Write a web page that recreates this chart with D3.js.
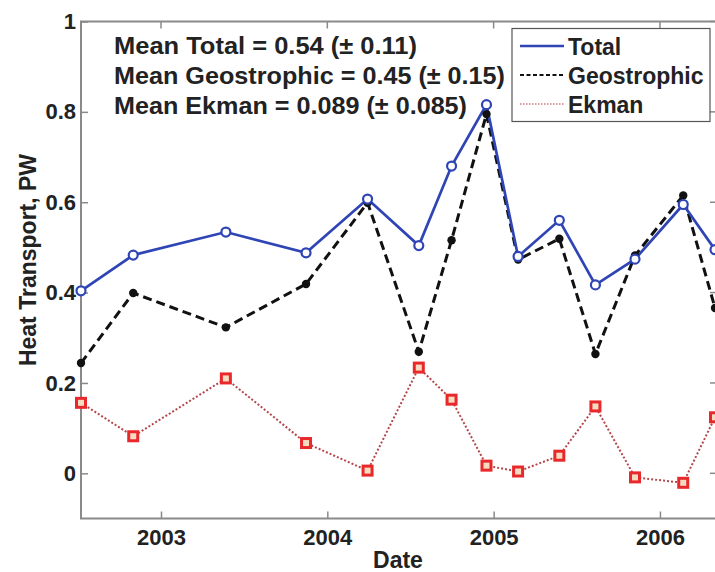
<!DOCTYPE html>
<html>
<head>
<meta charset="utf-8">
<script src="https://cdn.jsdelivr.net/npm/d3@7"></script>
<style>
  body { margin: 0; background: #fff; }
  text { font-family: "Liberation Sans", Arial, sans-serif; font-weight: bold; fill: #222; }
</style>
</head>
<body>
<svg width="715" height="572"></svg>
<script>
// Sample dates (decimal years)
const dates = [2002.519, 2002.833, 2003.39, 2003.872, 2004.242, 2004.55, 2004.747,
               2004.957, 2005.147, 2005.395, 2005.612, 2005.85, 2006.14, 2006.331];

// Heat transport, PW
const total       = [0.404, 0.483, 0.534, 0.488, 0.607, 0.504, 0.680, 0.816, 0.480, 0.560, 0.417, 0.474, 0.595, 0.495];
const geostrophic = [0.244, 0.399, 0.323, 0.419, 0.599, 0.269, 0.516, 0.795, 0.473, 0.519, 0.264, 0.482, 0.615, 0.366];
const ekman       = [0.156, 0.082, 0.210, 0.067, 0.006, 0.234, 0.163, 0.017, 0.004, 0.039, 0.148, -0.009, -0.021, 0.124];

const xTicks = [2003, 2004, 2005, 2006];
const yTicks = [0, 0.2, 0.4, 0.6, 0.8, 1];
const yTickLabels = ["0", "0.2", "0.4", "0.6", "0.8", "1"];

const notes = [
  "Mean Total = 0.54 (\u00b1 0.11)",
  "Mean Geostrophic = 0.45 (\u00b1 0.15)",
  "Mean Ekman = 0.089 (\u00b1 0.085)"
];
const noteWidths = [303, 391, 353];   // measured text widths in the picture
const legendNames = ["Total", "Geostrophic", "Ekman"];

const svg = d3.select("svg");
const box = {left: 81, right: 717, top: 21.5, bottom: 518.5};

const x = d3.scaleLinear().domain([2002.519, 2006.343]).range([box.left, box.right]);
const y = d3.scaleLinear().domain([-0.1, 1]).range([box.bottom, box.top]);

const axisColor = "#8a8a8a";

// axes box
svg.append("rect")
   .attr("x", box.left).attr("y", box.top)
   .attr("width", box.right - box.left).attr("height", box.bottom - box.top)
   .attr("fill", "none").attr("stroke", axisColor).attr("stroke-width", 2);

// x ticks (bottom + top, inward)
const xAxis = svg.append("g").attr("transform", `translate(0,${box.bottom})`)
   .call(d3.axisBottom(x).tickValues(xTicks).tickFormat(d3.format("d")).tickSizeInner(-7).tickSizeOuter(0).tickPadding(11));
xAxis.select(".domain").remove();
xAxis.selectAll("line").attr("stroke", axisColor).attr("stroke-width", 1.5);
xAxis.selectAll("text").attr("font-size", 22).attr("fill", "#222")
     .attr("font-family", "Liberation Sans, Arial, sans-serif").attr("font-weight", "bold");

svg.append("g").selectAll("line").data(xTicks).join("line")
   .attr("x1", d => x(d)).attr("x2", d => x(d))
   .attr("y1", box.top).attr("y2", box.top + 7)
   .attr("stroke", axisColor).attr("stroke-width", 1.5);

// y ticks (left + right, inward)
const yAxis = svg.append("g").attr("transform", `translate(${box.left},0)`)
   .call(d3.axisLeft(y).tickValues(yTicks).tickFormat((d, i) => yTickLabels[i]).tickSizeInner(-7).tickSizeOuter(0).tickPadding(5));
yAxis.select(".domain").remove();
yAxis.selectAll("line").attr("stroke", axisColor).attr("stroke-width", 1.5);
yAxis.selectAll("text").attr("font-size", 22).attr("fill", "#222")
     .attr("font-family", "Liberation Sans, Arial, sans-serif").attr("font-weight", "bold");

svg.append("g").selectAll("line").data(yTicks).join("line")
   .attr("x1", box.right - 7).attr("x2", box.right)
   .attr("y1", d => y(d)).attr("y2", d => y(d))
   .attr("stroke", axisColor).attr("stroke-width", 1.5);

// axis titles
svg.append("text")
   .attr("x", 398).attr("y", 568)
   .attr("text-anchor", "middle").attr("font-size", 23)
   .text("Date");

svg.append("text")
   .attr("transform", "translate(36,260) rotate(-90)")
   .attr("text-anchor", "middle").attr("font-size", 23)
   .text("Heat Transport, PW");

// series
const line = d3.line().x(d => x(d[0])).y(d => y(d[1]));
const pts = vals => dates.map((d, i) => [d, vals[i]]);

const blue = "#2f45b5", red = "#e8282b", dotLine = "#b5474c";

const plot = svg.append("g");

plot.append("path").datum(pts(ekman))
    .attr("d", line).attr("fill", "none")
    .attr("stroke", dotLine).attr("stroke-width", 2).attr("stroke-dasharray", "2,2");

plot.append("path").datum(pts(geostrophic))
    .attr("d", line).attr("fill", "none")
    .attr("stroke", "#111").attr("stroke-width", 3).attr("stroke-dasharray", "9,5");

plot.append("path").datum(pts(total))
    .attr("d", line).attr("fill", "none")
    .attr("stroke", blue).attr("stroke-width", 2.7);

// markers
plot.append("g").selectAll("rect").data(pts(ekman)).join("rect")
    .attr("x", d => x(d[0]) - 4.5).attr("y", d => y(d[1]) - 4.5)
    .attr("width", 9).attr("height", 9)
    .attr("fill", "#f5dcc0").attr("stroke", red).attr("stroke-width", 3);

plot.append("g").selectAll("circle").data(pts(geostrophic)).join("circle")
    .attr("cx", d => x(d[0])).attr("cy", d => y(d[1]))
    .attr("r", 4.2).attr("fill", "#111");

plot.append("g").selectAll("circle").data(pts(total)).join("circle")
    .attr("cx", d => x(d[0])).attr("cy", d => y(d[1]))
    .attr("r", 4.5).attr("fill", "#fff").attr("stroke", blue).attr("stroke-width", 2.2);

// mean annotations
svg.append("g").selectAll("text").data(notes).join("text")
   .attr("x", 114).attr("y", (d, i) => 54 + i * 30)
   .attr("font-size", 23)
   .attr("textLength", (d, i) => noteWidths[i])
   .attr("lengthAdjust", "spacingAndGlyphs")
   .text(d => d);

// legend
const lg = svg.append("g");
lg.append("rect")
  .attr("x", 512).attr("y", 28.5).attr("width", 198).attr("height", 93)
  .attr("fill", "#fff").attr("stroke", "#555").attr("stroke-width", 1.2);

const legendStyles = [
  {stroke: blue, width: 2.7, dash: null},
  {stroke: "#111", width: 2, dash: "4,2.5"},
  {stroke: "#d99aa0", width: 2, dash: "1.5,1.5"}
];
legendNames.forEach((name, i) => {
  const ly = 46 + i * 29;
  lg.append("line")
    .attr("x1", 520).attr("x2", 564).attr("y1", ly).attr("y2", ly)
    .attr("stroke", legendStyles[i].stroke).attr("stroke-width", legendStyles[i].width)
    .attr("stroke-dasharray", legendStyles[i].dash);
  lg.append("text")
    .attr("x", 568).attr("y", ly + 8.5)
    .attr("font-size", 23)
    .text(name);
});
</script>
</body>
</html>
